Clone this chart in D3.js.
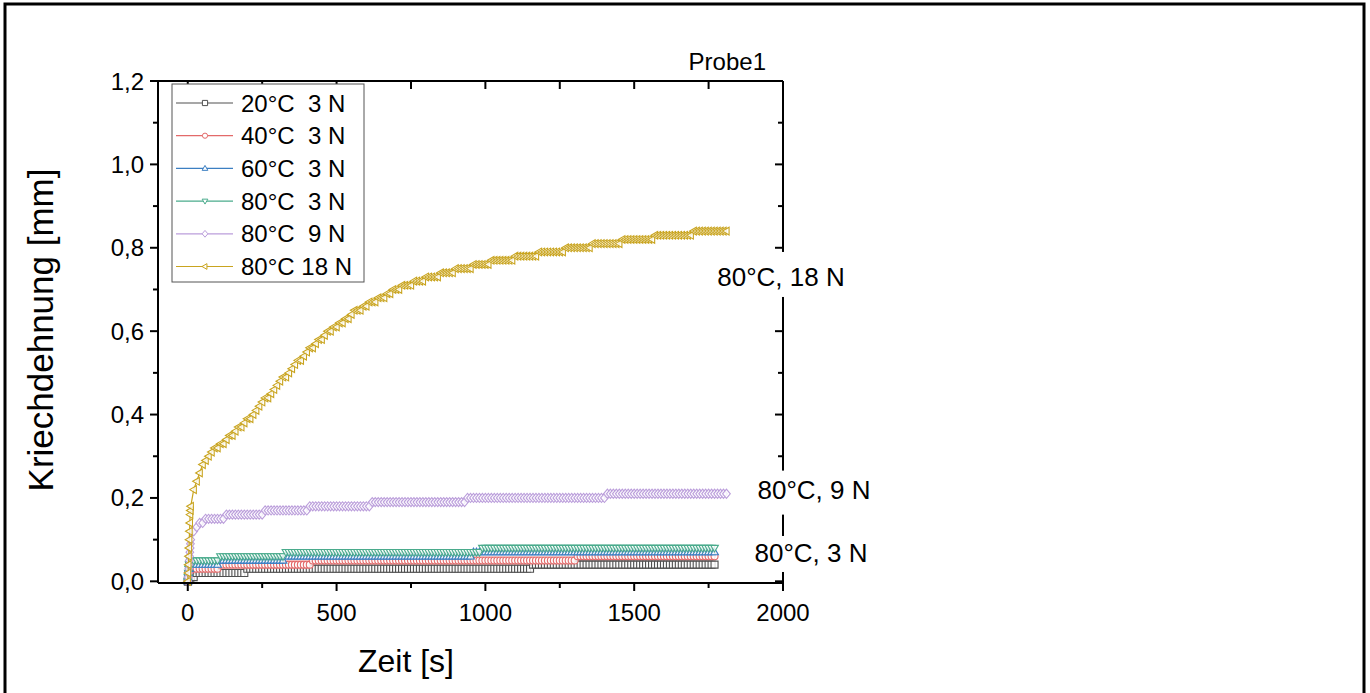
<!DOCTYPE html>
<html>
<head>
<meta charset="utf-8">
<script src="https://cdn.jsdelivr.net/npm/d3@7"></script>
<style>
  html, body { margin: 0; padding: 0; background: #fff; }
  svg { display: block; font-family: "Liberation Sans", Arial, sans-serif; }
</style>
</head>
<body>
<svg id="chart" width="1370" height="693"></svg>
<script>
// ---------------- data ----------------
const seriesNames = ["20°C  3 N", "40°C  3 N", "60°C  3 N", "80°C  3 N", "80°C  9 N", "80°C 18 N"];
const xTicks = [0, 500, 1000, 1500, 2000];
const yTicks = [0, 0.2, 0.4, 0.6, 0.8, 1.0, 1.2];
const chartTitle = "Probe1";
const xTitle = "Zeit [s]";
const yTitle = "Kriechdehnung [mm]";
const annotations = ["80°C, 18 N", "80°C, 9 N", "80°C, 3 N"];
const annotationValues = [0.73, 0.22, 0.068];

// time stamps [s]
const timeS = [0,1,2,3,4,5,6,7,8,9,10,
  20,30,40,50,60,70,80,90,100,
  110,120,130,140,150,160,170,180,190,200,
  210,220,230,240,250,260,270,280,290,300,
  310,320,330,340,350,360,370,380,390,400,
  410,420,430,440,450,460,470,480,490,500,
  510,520,530,540,550,560,570,580,590,600,
  610,620,630,640,650,660,670,680,690,700,
  710,720,730,740,750,760,770,780,790,800,
  810,820,830,840,850,860,870,880,890,900,
  910,920,930,940,950,960,970,980,990,1000,
  1010,1020,1030,1040,1050,1060,1070,1080,1090,1100,
  1110,1120,1130,1140,1150,1160,1170,1180,1190,1200,
  1210,1220,1230,1240,1250,1260,1270,1280,1290,1300,
  1310,1320,1330,1340,1350,1360,1370,1380,1390,1400,
  1410,1420,1430,1440,1450,1460,1470,1480,1490,1500,
  1510,1520,1530,1540,1550,1560,1570,1580,1590,1600,
  1610,1620,1630,1640,1650,1660,1670,1680,1690,1700,
  1710,1720,1730,1740,1750,1760,1770,1780,1790,1800,
  1810];

// 20°C 3 N (until 1770 s)
const s20_3 = [0,0,0.01,0.01,0.01,0.01,0.01,0.01,0.01,0.01,0.01,
  0.01,0.02,0.02,0.02,0.02,0.02,0.02,0.02,0.02,
  0.02,0.02,0.02,0.02,0.02,0.02,0.02,0.02,0.02,0.03,
  0.03,0.03,0.03,0.03,0.03,0.03,0.03,0.03,0.03,0.03,
  0.03,0.03,0.03,0.03,0.03,0.03,0.03,0.03,0.03,0.03,
  0.03,0.03,0.03,0.03,0.03,0.03,0.03,0.03,0.03,0.03,
  0.03,0.03,0.03,0.03,0.03,0.03,0.03,0.03,0.03,0.03,
  0.03,0.03,0.03,0.03,0.03,0.03,0.03,0.03,0.03,0.03,
  0.03,0.03,0.03,0.03,0.03,0.03,0.03,0.03,0.03,0.03,
  0.03,0.03,0.03,0.03,0.03,0.03,0.03,0.03,0.03,0.03,
  0.03,0.03,0.03,0.03,0.03,0.03,0.03,0.03,0.03,0.03,
  0.03,0.03,0.03,0.03,0.03,0.03,0.03,0.03,0.03,0.03,
  0.03,0.03,0.03,0.03,0.03,0.04,0.04,0.04,0.04,0.04,
  0.04,0.04,0.04,0.04,0.04,0.04,0.04,0.04,0.04,0.04,
  0.04,0.04,0.04,0.04,0.04,0.04,0.04,0.04,0.04,0.04,
  0.04,0.04,0.04,0.04,0.04,0.04,0.04,0.04,0.04,0.04,
  0.04,0.04,0.04,0.04,0.04,0.04,0.04,0.04,0.04,0.04,
  0.04,0.04,0.04,0.04,0.04,0.04,0.04,0.04,0.04,0.04,
  0.04,0.04,0.04,0.04,0.04,0.04,0.04];

// 40°C 3 N (until 1770 s)
const s40_3 = [0,0.01,0.01,0.02,0.02,0.02,0.03,0.03,0.03,0.03,0.03,
  0.03,0.03,0.03,0.03,0.03,0.03,0.03,0.03,0.03,
  0.04,0.04,0.04,0.04,0.04,0.04,0.04,0.04,0.04,0.04,
  0.04,0.04,0.04,0.04,0.04,0.04,0.04,0.04,0.04,0.04,
  0.04,0.04,0.04,0.04,0.04,0.04,0.04,0.04,0.04,0.04,
  0.04,0.05,0.05,0.05,0.05,0.05,0.05,0.05,0.05,0.05,
  0.05,0.05,0.05,0.05,0.05,0.05,0.05,0.05,0.05,0.05,
  0.05,0.05,0.05,0.05,0.05,0.05,0.05,0.05,0.05,0.05,
  0.05,0.05,0.05,0.05,0.05,0.05,0.05,0.05,0.05,0.05,
  0.05,0.05,0.05,0.05,0.05,0.05,0.05,0.05,0.05,0.05,
  0.05,0.05,0.05,0.05,0.05,0.05,0.05,0.05,0.05,0.05,
  0.05,0.05,0.05,0.05,0.05,0.05,0.05,0.05,0.05,0.05,
  0.05,0.05,0.05,0.05,0.05,0.05,0.05,0.05,0.05,0.05,
  0.05,0.05,0.05,0.05,0.05,0.05,0.05,0.05,0.05,0.05,
  0.06,0.06,0.06,0.06,0.06,0.06,0.06,0.06,0.06,0.06,
  0.06,0.06,0.06,0.06,0.06,0.06,0.06,0.06,0.06,0.06,
  0.06,0.06,0.06,0.06,0.06,0.06,0.06,0.06,0.06,0.06,
  0.06,0.06,0.06,0.06,0.06,0.06,0.06,0.06,0.06,0.06,
  0.06,0.06,0.06,0.06,0.06,0.06,0.06];

// 60°C 3 N (until 1770 s)
const s60_3 = [0,0.01,0.02,0.02,0.03,0.03,0.03,0.04,0.04,0.04,0.04,
  0.04,0.04,0.04,0.04,0.04,0.04,0.04,0.04,0.04,
  0.05,0.05,0.05,0.05,0.05,0.05,0.05,0.05,0.05,0.05,
  0.05,0.05,0.05,0.05,0.05,0.05,0.05,0.05,0.05,0.05,
  0.05,0.05,0.06,0.06,0.06,0.06,0.06,0.06,0.06,0.06,
  0.06,0.06,0.06,0.06,0.06,0.06,0.06,0.06,0.06,0.06,
  0.06,0.06,0.06,0.06,0.06,0.06,0.06,0.06,0.06,0.06,
  0.06,0.06,0.06,0.06,0.06,0.06,0.06,0.06,0.06,0.06,
  0.06,0.06,0.06,0.06,0.06,0.06,0.06,0.06,0.06,0.06,
  0.06,0.06,0.06,0.06,0.06,0.06,0.06,0.06,0.06,0.06,
  0.06,0.06,0.06,0.06,0.06,0.07,0.07,0.07,0.07,0.07,
  0.07,0.07,0.07,0.07,0.07,0.07,0.07,0.07,0.07,0.07,
  0.07,0.07,0.07,0.07,0.07,0.07,0.07,0.07,0.07,0.07,
  0.07,0.07,0.07,0.07,0.07,0.07,0.07,0.07,0.07,0.07,
  0.07,0.07,0.07,0.07,0.07,0.07,0.07,0.07,0.07,0.07,
  0.07,0.07,0.07,0.07,0.07,0.07,0.07,0.07,0.07,0.07,
  0.07,0.07,0.07,0.07,0.07,0.07,0.07,0.07,0.07,0.07,
  0.07,0.07,0.07,0.07,0.07,0.07,0.07,0.07,0.07,0.07,
  0.07,0.07,0.07,0.07,0.07,0.07,0.07];

// 80°C 3 N (until 1770 s)
const s80_3 = [0,0.01,0.02,0.03,0.03,0.04,0.04,0.04,0.05,0.05,0.05,
  0.05,0.05,0.05,0.05,0.05,0.05,0.05,0.05,0.05,
  0.06,0.06,0.06,0.06,0.06,0.06,0.06,0.06,0.06,0.06,
  0.06,0.06,0.06,0.06,0.06,0.06,0.06,0.06,0.06,0.06,
  0.06,0.06,0.07,0.07,0.07,0.07,0.07,0.07,0.07,0.07,
  0.07,0.07,0.07,0.07,0.07,0.07,0.07,0.07,0.07,0.07,
  0.07,0.07,0.07,0.07,0.07,0.07,0.07,0.07,0.07,0.07,
  0.07,0.07,0.07,0.07,0.07,0.07,0.07,0.07,0.07,0.07,
  0.07,0.07,0.07,0.07,0.07,0.07,0.07,0.07,0.07,0.07,
  0.07,0.07,0.07,0.07,0.07,0.07,0.07,0.07,0.07,0.07,
  0.07,0.07,0.07,0.07,0.07,0.07,0.07,0.07,0.08,0.08,
  0.08,0.08,0.08,0.08,0.08,0.08,0.08,0.08,0.08,0.08,
  0.08,0.08,0.08,0.08,0.08,0.08,0.08,0.08,0.08,0.08,
  0.08,0.08,0.08,0.08,0.08,0.08,0.08,0.08,0.08,0.08,
  0.08,0.08,0.08,0.08,0.08,0.08,0.08,0.08,0.08,0.08,
  0.08,0.08,0.08,0.08,0.08,0.08,0.08,0.08,0.08,0.08,
  0.08,0.08,0.08,0.08,0.08,0.08,0.08,0.08,0.08,0.08,
  0.08,0.08,0.08,0.08,0.08,0.08,0.08,0.08,0.08,0.08,
  0.08,0.08,0.08,0.08,0.08,0.08,0.08];

// 80°C 9 N (until 1810 s)
const s80_9 = [0,0.01,0.02,0.03,0.04,0.05,0.06,0.07,0.08,0.09,0.10,
  0.12,0.13,0.14,0.14,0.15,0.15,0.15,0.15,0.15,
  0.15,0.15,0.16,0.16,0.16,0.16,0.16,0.16,0.16,0.16,
  0.16,0.16,0.16,0.16,0.16,0.17,0.17,0.17,0.17,0.17,
  0.17,0.17,0.17,0.17,0.17,0.17,0.17,0.17,0.17,0.17,
  0.18,0.18,0.18,0.18,0.18,0.18,0.18,0.18,0.18,0.18,
  0.18,0.18,0.18,0.18,0.18,0.18,0.18,0.18,0.18,0.18,
  0.18,0.19,0.19,0.19,0.19,0.19,0.19,0.19,0.19,0.19,
  0.19,0.19,0.19,0.19,0.19,0.19,0.19,0.19,0.19,0.19,
  0.19,0.19,0.19,0.19,0.19,0.19,0.19,0.19,0.19,0.19,
  0.19,0.19,0.19,0.20,0.20,0.20,0.20,0.20,0.20,0.20,
  0.20,0.20,0.20,0.20,0.20,0.20,0.20,0.20,0.20,0.20,
  0.20,0.20,0.20,0.20,0.20,0.20,0.20,0.20,0.20,0.20,
  0.20,0.20,0.20,0.20,0.20,0.20,0.20,0.20,0.20,0.20,
  0.20,0.20,0.20,0.20,0.20,0.20,0.20,0.20,0.20,0.20,
  0.21,0.21,0.21,0.21,0.21,0.21,0.21,0.21,0.21,0.21,
  0.21,0.21,0.21,0.21,0.21,0.21,0.21,0.21,0.21,0.21,
  0.21,0.21,0.21,0.21,0.21,0.21,0.21,0.21,0.21,0.21,
  0.21,0.21,0.21,0.21,0.21,0.21,0.21,0.21,0.21,0.21,
  0.21];

// 80°C 18 N (until 1810 s)
const s80_18 = [0,0.02,0.04,0.06,0.08,0.10,0.12,0.14,0.16,0.17,0.18,
  0.22,0.24,0.26,0.28,0.29,0.30,0.31,0.32,0.32,
  0.33,0.33,0.34,0.35,0.35,0.36,0.37,0.37,0.38,0.39,
  0.39,0.40,0.41,0.42,0.43,0.44,0.44,0.45,0.46,0.47,
  0.48,0.49,0.49,0.50,0.51,0.52,0.53,0.53,0.54,0.55,
  0.56,0.56,0.57,0.58,0.58,0.59,0.60,0.60,0.61,0.61,
  0.62,0.62,0.63,0.63,0.64,0.65,0.65,0.65,0.66,0.66,
  0.67,0.67,0.67,0.68,0.68,0.68,0.69,0.69,0.70,0.70,
  0.70,0.71,0.71,0.71,0.71,0.72,0.72,0.72,0.72,0.73,
  0.73,0.73,0.73,0.73,0.74,0.74,0.74,0.74,0.74,0.75,
  0.75,0.75,0.75,0.75,0.75,0.76,0.76,0.76,0.76,0.76,
  0.76,0.77,0.77,0.77,0.77,0.77,0.77,0.77,0.77,0.78,
  0.78,0.78,0.78,0.78,0.78,0.78,0.78,0.79,0.79,0.79,
  0.79,0.79,0.79,0.79,0.79,0.79,0.80,0.80,0.80,0.80,
  0.80,0.80,0.80,0.80,0.80,0.81,0.81,0.81,0.81,0.81,
  0.81,0.81,0.81,0.81,0.81,0.82,0.82,0.82,0.82,0.82,
  0.82,0.82,0.82,0.82,0.82,0.82,0.83,0.83,0.83,0.83,
  0.83,0.83,0.83,0.83,0.83,0.83,0.83,0.83,0.83,0.84,
  0.84,0.84,0.84,0.84,0.84,0.84,0.84,0.84,0.84,0.84,
  0.84];

const seriesValues = [s20_3, s40_3, s60_3, s80_3, s80_9, s80_18];
const seriesColors = ["#505050", "#e36a6a", "#3c7fc2", "#4aab8c", "#bb9edb", "#c9a41f"];
const seriesSymbols = ["square", "circle", "triUp", "triDown", "diamond", "triLeft"];

// ---------------- drawing ----------------
const svg = d3.select("#chart");
const W = 1370, H = 693;
const plot = { left: 158, right: 783, top: 81, bottom: 583 };

svg.append("rect").attr("x", 0).attr("y", 0).attr("width", W).attr("height", H).attr("fill", "#fff");
// outer frame
svg.append("rect").attr("x", 5).attr("y", 4).attr("width", 1359).attr("height", 720)
  .attr("fill", "none").attr("stroke", "#000").attr("stroke-width", 3);

const x = d3.scaleLinear().domain([-100, 2000]).range([plot.left, plot.right]);
const y = d3.scaleLinear().domain([-0.004, 1.2]).range([plot.bottom, plot.top]);

const fmtY = d => d3.format(".1f")(d).replace(".", ",");
const xMinor = [250, 750, 1250, 1750];
const yMinor = [0.1, 0.3, 0.5, 0.7, 0.9, 1.1];

// symbol path generator
function symPath(type, size) {
  const s = size;
  switch (type) {
    case "square": return `M${-s},${-s}H${s}V${s}H${-s}Z`;
    case "circle": return `M${s},0A${s},${s} 0 1,1 ${-s},0A${s},${s} 0 1,1 ${s},0Z`;
    case "triUp": return `M0,${-s*1.15}L${s*1.1},${s*0.75}L${-s*1.1},${s*0.75}Z`;
    case "triDown": return `M0,${s*1.15}L${s*1.1},${-s*0.75}L${-s*1.1},${-s*0.75}Z`;
    case "diamond": return `M0,${-s*1.3}L${s*1.1},0L0,${s*1.3}L${-s*1.1},0Z`;
    case "triLeft": return `M${-s*1.15},0L${s*0.75},${-s*1.1}L${s*0.75},${s*1.1}Z`;
  }
}

// data series
const clipId = "plotclip";
svg.append("clipPath").attr("id", clipId).append("rect")
  .attr("x", plot.left).attr("y", plot.top - 5).attr("width", plot.right - plot.left + 10).attr("height", plot.bottom - plot.top + 10);

const dataG = svg.append("g").attr("clip-path", `url(#${clipId})`);
const line = d3.line().x(d => x(d[0])).y(d => y(d[1]));

seriesValues.forEach((vals, i) => {
  const pts = vals.map((v, k) => [timeS[k], v]);
  const g = dataG.append("g");
  g.append("path").datum(pts).attr("d", line)
    .attr("fill", "none").attr("stroke", seriesColors[i]).attr("stroke-width", 1.2);
  g.selectAll("path.m").data(pts).enter().append("path").attr("class", "m")
    .attr("transform", d => `translate(${x(d[0])},${y(d[1])})`)
    .attr("d", symPath(seriesSymbols[i], 3.5))
    .attr("fill", "#fff").attr("fill-opacity", 0.8)
    .attr("stroke", seriesColors[i]).attr("stroke-width", 1.1);
});

// axes
const axG = svg.append("g").attr("stroke", "#000").attr("stroke-width", 2).attr("fill", "none");
axG.append("line").attr("x1", plot.left).attr("x2", plot.right).attr("y1", plot.bottom).attr("y2", plot.bottom);
axG.append("line").attr("x1", plot.left).attr("x2", plot.right).attr("y1", plot.top).attr("y2", plot.top);
axG.append("line").attr("x1", plot.left).attr("x2", plot.left).attr("y1", plot.top).attr("y2", plot.bottom);
axG.append("line").attr("x1", plot.right).attr("x2", plot.right).attr("y1", plot.top).attr("y2", plot.bottom + 8);

// bottom ticks (outward)
axG.selectAll("l.bx").data(xTicks).enter().append("line")
  .attr("x1", d => x(d)).attr("x2", d => x(d)).attr("y1", plot.bottom).attr("y2", plot.bottom + 8);
axG.selectAll("l.bxm").data(xMinor).enter().append("line")
  .attr("x1", d => x(d)).attr("x2", d => x(d)).attr("y1", plot.bottom).attr("y2", plot.bottom + 5);
// top ticks (inward)
axG.selectAll("l.tx").data(xTicks).enter().append("line")
  .attr("x1", d => x(d)).attr("x2", d => x(d)).attr("y1", plot.top).attr("y2", plot.top + 8);
axG.selectAll("l.txm").data(xMinor).enter().append("line")
  .attr("x1", d => x(d)).attr("x2", d => x(d)).attr("y1", plot.top).attr("y2", plot.top + 8);
// left ticks (outward)
axG.selectAll("l.ly").data(yTicks).enter().append("line")
  .attr("x1", plot.left - 8).attr("x2", plot.left).attr("y1", d => y(d)).attr("y2", d => y(d));
axG.selectAll("l.lym").data(yMinor).enter().append("line")
  .attr("x1", plot.left - 5).attr("x2", plot.left).attr("y1", d => y(d)).attr("y2", d => y(d));
// right ticks (inward)
axG.selectAll("l.ry").data(yTicks).enter().append("line")
  .attr("x1", plot.right - 8).attr("x2", plot.right).attr("y1", d => y(d)).attr("y2", d => y(d));
axG.selectAll("l.rym").data(yMinor).enter().append("line")
  .attr("x1", plot.right - 5).attr("x2", plot.right).attr("y1", d => y(d)).attr("y2", d => y(d));

// tick labels
const txt = svg.append("g").attr("fill", "#000");
txt.selectAll("t.x").data(xTicks).enter().append("text")
  .attr("x", d => x(d)).attr("y", 621).attr("text-anchor", "middle")
  .attr("font-size", 24).text(d => d);
txt.selectAll("t.y").data(yTicks).enter().append("text")
  .attr("x", plot.left - 14).attr("y", d => y(d) + 8.5).attr("text-anchor", "end")
  .attr("font-size", 24).text(fmtY);

// axis titles
txt.append("text").attr("x", 406).attr("y", 672).attr("text-anchor", "middle")
  .attr("font-size", 32).text(xTitle);
txt.append("text").attr("transform", `translate(53,330) rotate(-90)`)
  .attr("text-anchor", "middle").attr("font-size", 35).text(yTitle);
// title
txt.append("text").attr("x", 766).attr("y", 70).attr("text-anchor", "end")
  .attr("font-size", 24).text(chartTitle);

// annotations on right axis (white box interrupts the axis)
const annX = [781, 814, 811];
const annPad = [[10, 5], [4, 10], [2, 4]];
annotations.forEach((a, i) => {
  const yy = y(annotationValues[i]);
  const t = txt.append("text").attr("x", annX[i]).attr("y", yy + 9).attr("text-anchor", "middle")
    .attr("font-size", 26).text(a);
  const bb = t.node().getBBox();
  svg.insert("rect", () => t.node().parentNode)
    .attr("x", bb.x - 3).attr("y", bb.y - annPad[i][0]).attr("width", bb.width + 6)
    .attr("height", bb.height + annPad[i][0] + annPad[i][1])
    .attr("fill", "#fff");
});

// legend
const lg = svg.append("g");
lg.append("rect").attr("x", 172).attr("y", 84).attr("width", 192).attr("height", 198)
  .attr("fill", "#fff").attr("stroke", "#555").attr("stroke-width", 1);
seriesNames.forEach((n, i) => {
  const cy = 103 + i * 32.7;
  lg.append("line").attr("x1", 176).attr("x2", 233).attr("y1", cy).attr("y2", cy)
    .attr("stroke", seriesColors[i]).attr("stroke-width", 1.2);
  lg.append("path").attr("transform", `translate(205,${cy})`).attr("d", symPath(seriesSymbols[i], 2.6))
    .attr("fill", "#fff").attr("stroke", seriesColors[i]).attr("stroke-width", 1);
  lg.append("text").attr("x", 241).attr("y", cy + 8.5).attr("font-size", 24)
    .attr("xml:space", "preserve").style("white-space", "pre").text(n);
});
</script>
</body>
</html>
